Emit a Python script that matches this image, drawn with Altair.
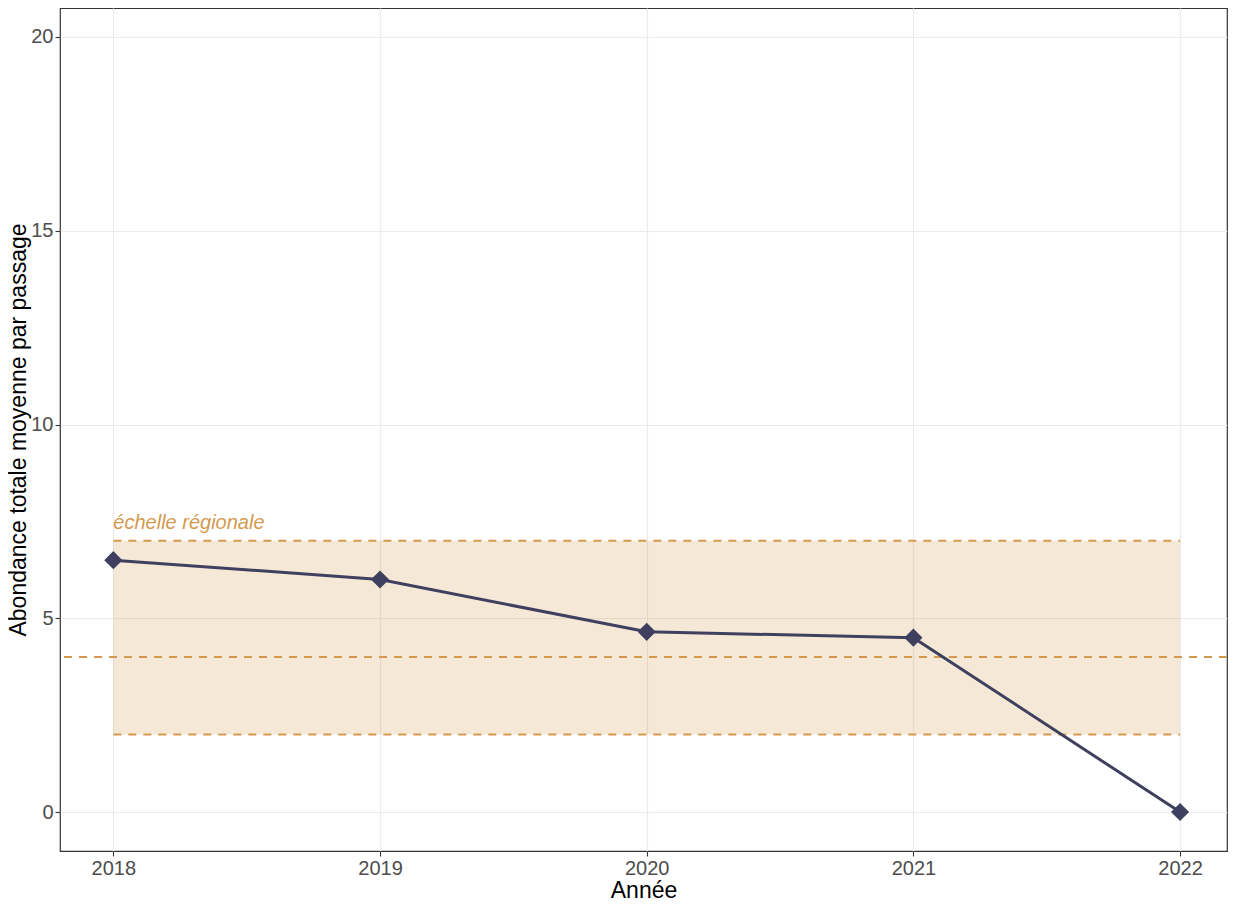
import altair as alt
import pandas as pd

years = [2018, 2019, 2020, 2021, 2022]
values = [6.5, 6.0, 4.65, 4.5, 0.0]

band_x = [2018]
band_x2 = [2022]
band_low = [2.0]
band_high = [7.0]
band_mid = [4.0]
label_text = ["échelle régionale"]
label_x = [2018]
label_y = [7.3]

x_ticks = [2018, 2019, 2020, 2021, 2022]
y_ticks = [0, 5, 10, 15, 20]

LINE = "#3f405f"
ORANGE = "#d39a4f"
FONT = "Liberation Sans"

df = pd.DataFrame({"year": years, "value": values})
band = pd.DataFrame({"x": band_x, "x2": band_x2, "lo": band_low, "hi": band_high})
edges = pd.DataFrame({"x": band_x * 2, "x2": band_x2 * 2, "y": band_low + band_high})
mid = pd.DataFrame({"y": band_mid})
lab = pd.DataFrame({"x": label_x, "y": label_y, "t": label_text})

xscale = alt.Scale(domain=[2017.8, 2022.176], nice=False, zero=False)
yscale = alt.Scale(domain=[-1.006, 20.748], nice=False, zero=False)

xaxis = alt.Axis(values=x_ticks, format="d", title="Année", grid=True)
yaxis = alt.Axis(values=y_ticks, title="Abondance totale moyenne par passage", grid=True)

base_x = alt.X("x:Q", scale=xscale, axis=xaxis)
base_y = alt.Y("y:Q", scale=yscale, axis=yaxis)

rect = alt.Chart(band).mark_rect(color=ORANGE, opacity=0.23).encode(
    x=alt.X("x:Q", scale=xscale, axis=xaxis),
    x2="x2:Q",
    y=alt.Y("lo:Q", scale=yscale, axis=yaxis),
    y2="hi:Q",
)

edge_rules = alt.Chart(edges).mark_rule(color=ORANGE, strokeWidth=1.8, strokeDash=[8, 7]).encode(
    x=base_x, x2="x2:Q", y=base_y
)

mid_rule = alt.Chart(mid).mark_rule(color=ORANGE, strokeWidth=1.8, strokeDash=[8, 7]).encode(
    y=base_y
)

line = alt.Chart(df).mark_line(color=LINE, strokeWidth=3).encode(
    x=alt.X("year:Q", scale=xscale, axis=xaxis),
    y=alt.Y("value:Q", scale=yscale, axis=yaxis),
)

pts = alt.Chart(df).mark_point(shape="diamond", filled=True, color=LINE, size=330, opacity=1).encode(
    x=alt.X("year:Q", scale=xscale, axis=xaxis),
    y=alt.Y("value:Q", scale=yscale, axis=yaxis),
)

text = alt.Chart(lab).mark_text(
    align="left", baseline="alphabetic", fontStyle="italic", fontSize=20, font=FONT, color=ORANGE
).encode(x=base_x, y=base_y, text="t:N")

chart = (
    alt.layer(rect, edge_rules, mid_rule, line, pts, text)
    .properties(
        width=1167,
        height=843,
        autosize=alt.AutoSizeParams(type="none"),
        padding={"left": 52, "top": 0, "right": 1, "bottom": 47},
    )
    .configure_view(stroke="#333333", strokeWidth=1.2)
    .configure_axis(
        domain=False,
        gridColor="#ebebeb",
        gridWidth=1.2,
        tickColor="#333333",
        tickSize=5,
        tickWidth=1.1,
        labelFont=FONT,
        labelFontSize=20,
        labelColor="#4d4d4d",
        labelPadding=2,
        titleFont=FONT,
        titleFontSize=23,
        titleFontWeight="normal",
        titleColor="#000000",
        titleBaseline="alphabetic",
    )
    .configure_axisX(titleY=46)
    .configure_axisY(titleX=-35)
)

chart.save("out.html", embed_options={"renderer": "svg", "actions": False})
